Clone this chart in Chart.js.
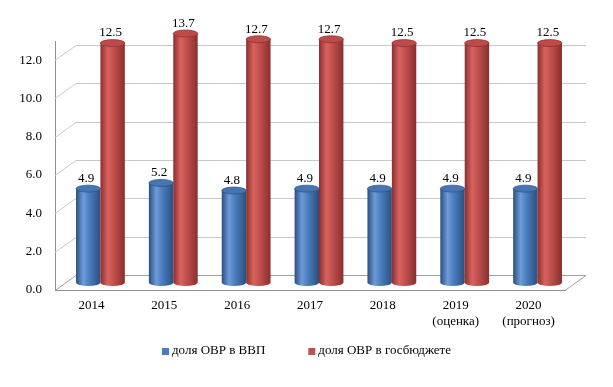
<!DOCTYPE html>
<html>
<head>
<meta charset="utf-8">
<script src="https://cdn.jsdelivr.net/npm/chart.js@4"></script>
<style>
  html, body { margin: 0; padding: 0; background: #fff; }
  #wrap { width: 613px; height: 387px; }
</style>
</head>
<body>
<div id="wrap"><canvas id="chart" width="613" height="387"></canvas></div>
<script>
const CATEGORIES = ['2014', '2015', '2016', '2017', '2018', ['2019', '(оценка)'], ['2020', '(прогноз)']];
const SHARE_GDP = [4.9, 5.2, 4.8, 4.9, 4.9, 4.9, 4.9];
const SHARE_BUDGET = [12.5, 13.7, 12.7, 12.7, 12.5, 12.5, 12.5];
const SERIES_NAMES = ['доля ОВР в ВВП', 'доля ОВР в госбюджете'];
const Y_TICKS = [0, 2, 4, 6, 8, 10, 12];

const FONT = "'Liberation Serif', 'Times New Roman', serif";
// depth of the 3d box (back wall offset) and bar offset (mid depth)
const DEPTH_X = 21, DEPTH_Y = -15;
const BAR_DX = 9, BAR_DY = -7.5;

const SHADES = [
  { dark: '#2b4f7e', mid: '#4a7dbd', light: '#6c9cd9', top: '#4576b4' },
  { dark: '#8a2f2d', mid: '#c0504d', light: '#d8625f', top: '#bd4c49' }
];

// ── 3D BOX (walls + floor) ────────────────────────────────────────────────────
const boxPlugin = {
  id: 'box3d',
  beforeDatasetsDraw(chart) {
    const { ctx, chartArea: a, scales: { y } } = chart;
    ctx.save();
    ctx.lineWidth = 1;
    Y_TICKS.forEach(v => {
      const py = Math.round(y.getPixelForValue(v)) + 0.5;
      ctx.strokeStyle = v === 0 ? '#a0a0a0' : '#c8c8c8';
      ctx.beginPath();
      ctx.moveTo(a.left, py);
      ctx.lineTo(a.left + DEPTH_X, py + DEPTH_Y);
      ctx.lineTo(a.right + DEPTH_X, py + DEPTH_Y);
      if (v === 0) ctx.lineTo(a.right, py);
      ctx.stroke();
    });
    ctx.restore();
  },
  beforeDatasetDraw() {
    return false; // cylinders are drawn below instead
  }
};

// ── CYLINDERS + LABELS ────────────────────────────────────────────────────────
const cylinderPlugin = {
  id: 'cylinders',
  afterDatasetsDraw(chart) {
    const { ctx, chartArea: a } = chart;
    ctx.save();
    chart.data.datasets.forEach((ds, di) => {
      const meta = chart.getDatasetMeta(di);
      const sh = SHADES[di];
      meta.data.forEach((el, i) => {
        const w = el.width;
        const x0 = el.x - w / 2 + BAR_DX, x1 = x0 + w, cx = (x0 + x1) / 2;
        const top = Math.max(el.y, a.top) + BAR_DY;
        const bot = el.base + BAR_DY;
        const ry = 3.5;

        const g = ctx.createLinearGradient(x0, 0, x1, 0);
        g.addColorStop(0, sh.dark);
        g.addColorStop(0.3, sh.light);
        g.addColorStop(0.55, sh.mid);
        g.addColorStop(1, sh.dark);

        ctx.fillStyle = g;
        ctx.beginPath();
        ctx.moveTo(x0, top);
        ctx.lineTo(x0, bot);
        ctx.ellipse(cx, bot, w / 2, ry, 0, Math.PI, 0, true);
        ctx.lineTo(x1, top);
        ctx.closePath();
        ctx.fill();

        ctx.fillStyle = sh.top;
        ctx.strokeStyle = sh.dark;
        ctx.lineWidth = 0.7;
        ctx.beginPath();
        ctx.ellipse(cx, top, w / 2, ry, 0, 0, Math.PI * 2);
        ctx.fill();
        ctx.stroke();

        ctx.fillStyle = '#000';
        ctx.font = '13px ' + FONT;
        ctx.textAlign = 'center';
        ctx.textBaseline = 'middle';
        ctx.fillText(ds.data[i].toFixed(1), cx - 2, top - 10);
      });
    });
    ctx.restore();
  }
};

// ── LEGEND (wide gap between items, as in the original) ───────────────────────
const legendPlugin = {
  id: 'wideLegend',
  afterDraw(chart) {
    const { ctx } = chart;
    const gap = 43, box = 7, textGap = 3, cy = 351;
    ctx.save();
    ctx.font = '13px ' + FONT;
    ctx.textBaseline = 'middle';
    ctx.textAlign = 'left';
    const items = chart.data.datasets.map(ds => ({
      text: ds.label, color: ds.backgroundColor, w: box + textGap + ctx.measureText(ds.label).width
    }));
    const total = items.reduce((s, it) => s + it.w, 0) + gap * (items.length - 1);
    let x = Math.round((chart.width - total) / 2);
    items.forEach(it => {
      ctx.fillStyle = it.color;
      ctx.fillRect(x, cy - 3, box, box);
      ctx.fillStyle = '#000';
      ctx.fillText(it.text, x + box + textGap, cy);
      x += it.w + gap;
    });
    ctx.restore();
  }
};

new Chart(document.getElementById('chart'), {
  type: 'bar',
  data: {
    labels: CATEGORIES,
    datasets: [
      { label: SERIES_NAMES[0], data: SHARE_GDP, backgroundColor: SHADES[0].mid },
      { label: SERIES_NAMES[1], data: SHARE_BUDGET, backgroundColor: SHADES[1].mid }
    ]
  },
  options: {
    responsive: false,
    animation: false,
    datasets: { bar: { categoryPercentage: 0.67, barPercentage: 1.0 } },
    layout: { padding: { top: 41, right: 48, bottom: 52, left: 0 } },
    scales: {
      x: {
        grid: { display: false, drawTicks: false },
        border: { display: true, color: '#909090' },
        ticks: { color: '#000', font: { family: FONT, size: 13 }, padding: 8, maxRotation: 0 },
        afterFit: s => { s.height = 45; }
      },
      y: {
        min: 0, max: 13,
        grid: { display: false, drawTicks: false },
        border: { display: true, color: '#909090' },
        ticks: {
          stepSize: 2, includeBounds: false, color: '#000', padding: 13,
          font: { family: FONT, size: 13 },
          callback: v => v.toFixed(1)
        },
        afterFit: s => { s.width = 55; }
      }
    },
    plugins: {
      legend: { display: false },
      tooltip: { enabled: false }
    }
  },
  plugins: [boxPlugin, cylinderPlugin, legendPlugin]
});
</script>
</body>
</html>
